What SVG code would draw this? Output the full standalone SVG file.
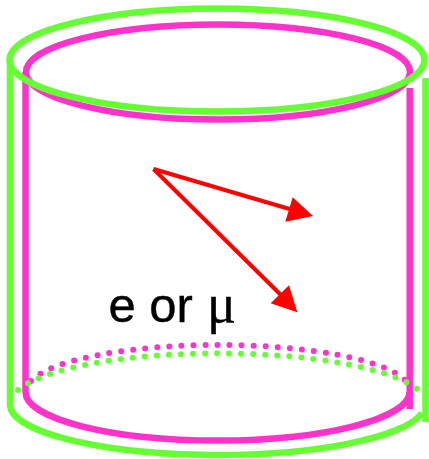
<svg xmlns="http://www.w3.org/2000/svg" width="429" height="459" viewBox="0 0 429 459">
<style>
.p{fill:none;stroke:#ff33cc;stroke-width:6.5}
.g{fill:none;stroke:#66ff33;stroke-width:6.5}
.dp{fill:none;stroke:#ff33cc;stroke-width:6;stroke-linecap:round;stroke-dasharray:0 12.05}
.dg{fill:none;stroke:#66ff33;stroke-width:6;stroke-linecap:round;stroke-dasharray:0 12.05}
.r{stroke:#ff0000;stroke-width:4;fill:none}
.h{fill:#ff0000}
.t{font-family:'Liberation Sans',Arial,sans-serif;font-size:49px;fill:#000000;stroke:#000000;stroke-width:.4}
</style>
<rect width="429" height="459" fill="#ffffff"/>
<path class="p" d="M25.5 72V392A192 48.5 0 0 0 409.5 392"/>
<ellipse class="p" cx="218" cy="72" rx="192" ry="47.5"/>
<path class="p" d="M409.7 88V409"/>
<path class="g" d="M10 60V405A207.5 50.5 0 0 0 422 413"/>
<ellipse class="g" cx="217" cy="60" rx="207.5" ry="51.5"/>
<path class="g" d="M425.5 78V422"/>
<path class="dp" d="M31 381A192 46 0 0 1 406 381"/>
<path class="dg" d="M18 390A207.5 50 0 0 1 418 390"/>
<path class="r" d="M153.5 169L298 211.5"/>
<path class="h" d="M313 216L292.7 197.3L285.3 221.7Z"/>
<path class="r" d="M153.5 169L286 300"/>
<path class="h" d="M297.3 312.3L289 285.3L270.7 303.3Z"/>
<text class="t" x="108.5" y="322">e or</text>
<text class="t" x="207" y="322" style="font-family:'Liberation Serif',serif;font-size:54px">μ</text>
</svg>
